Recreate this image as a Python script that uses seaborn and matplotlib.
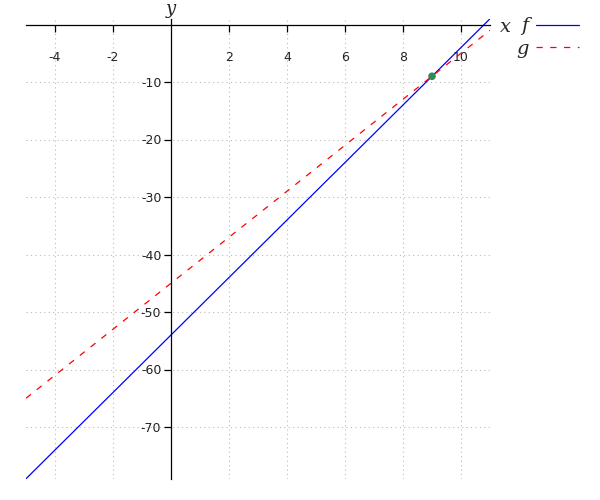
import matplotlib
matplotlib.use("Agg")
import matplotlib.pyplot as plt
import seaborn as sns
import pandas as pd

# Data
x_vals = [-5, 11]
f_vals = [-79, 1]
g_vals = [-65, -1]
pt_x = [9]
pt_y = [-9]
xticks = [-4, -2, 2, 4, 6, 8, 10]
yticks = [-70, -60, -50, -40, -30, -20, -10]

sns.set_style("white")
plt.rcParams['font.family'] = ['DejaVu Sans']

fig = plt.figure(figsize=(6, 5), dpi=100)
ax = fig.add_axes([0.0433, 0.0425, 0.7734, 0.92])

df_f = pd.DataFrame({"x": x_vals, "y": f_vals})
df_g = pd.DataFrame({"x": x_vals, "y": g_vals})
df_p = pd.DataFrame({"x": pt_x, "y": pt_y})

sns.lineplot(data=df_f, x="x", y="y", ax=ax, color="blue", linewidth=0.9, label="f")
sns.lineplot(data=df_g, x="x", y="y", ax=ax, color="red", linewidth=0.9, label="g",
             dashes=False, linestyle=(0, (5, 6)))
sns.scatterplot(data=df_p, x="x", y="y", ax=ax, color="#2e8b57", s=30, edgecolor="none", zorder=5)

ax.set_xlim(-5, 11)
ax.set_ylim(-79, 1)
ax.set_xticks(xticks)
ax.set_yticks(yticks)
ax.set_xticklabels([str(v) for v in xticks])
ax.set_yticklabels([str(v) for v in yticks])

ax.spines['left'].set_position(('data', 0))
ax.spines['bottom'].set_position(('data', 0))
ax.spines['top'].set_visible(False)
ax.spines['right'].set_visible(False)
for s in ['left', 'bottom']:
    ax.spines[s].set_color('black')
    ax.spines[s].set_linewidth(0.9)

ax.tick_params(axis='both', which='major', direction='out', length=5, width=0.9,
               color='black', labelsize=9, labelcolor='#222222')
ax.tick_params(axis='y', pad=2)
ax.tick_params(axis='x', pad=14)
ax.xaxis.set_ticks_position('bottom')
ax.yaxis.set_ticks_position('left')

ax.grid(True, linestyle=(0, (1, 3)), color='#bbbbbb', linewidth=0.8)
ax.set_axisbelow(True)

ax.set_xlabel("")
ax.set_ylabel("")
fig.text(505 / 600, 1 - 27 / 500, "x", fontsize=14, fontstyle='italic', family='DejaVu Serif',
         ha='center', va='center')
fig.text(171 / 600, 1.0, "y", fontsize=13, fontstyle='italic', family='DejaVu Serif',
         ha='center', va='top')

leg = ax.legend(loc='upper left', bbox_to_anchor=(1.039, 1.02), frameon=False, markerfirst=False,
                prop={'family': 'DejaVu Serif', 'style': 'italic', 'size': 14},
                handlelength=2.2, handletextpad=0.4, labelspacing=0.25, borderaxespad=0)

fig.savefig("out.png", dpi=100)
